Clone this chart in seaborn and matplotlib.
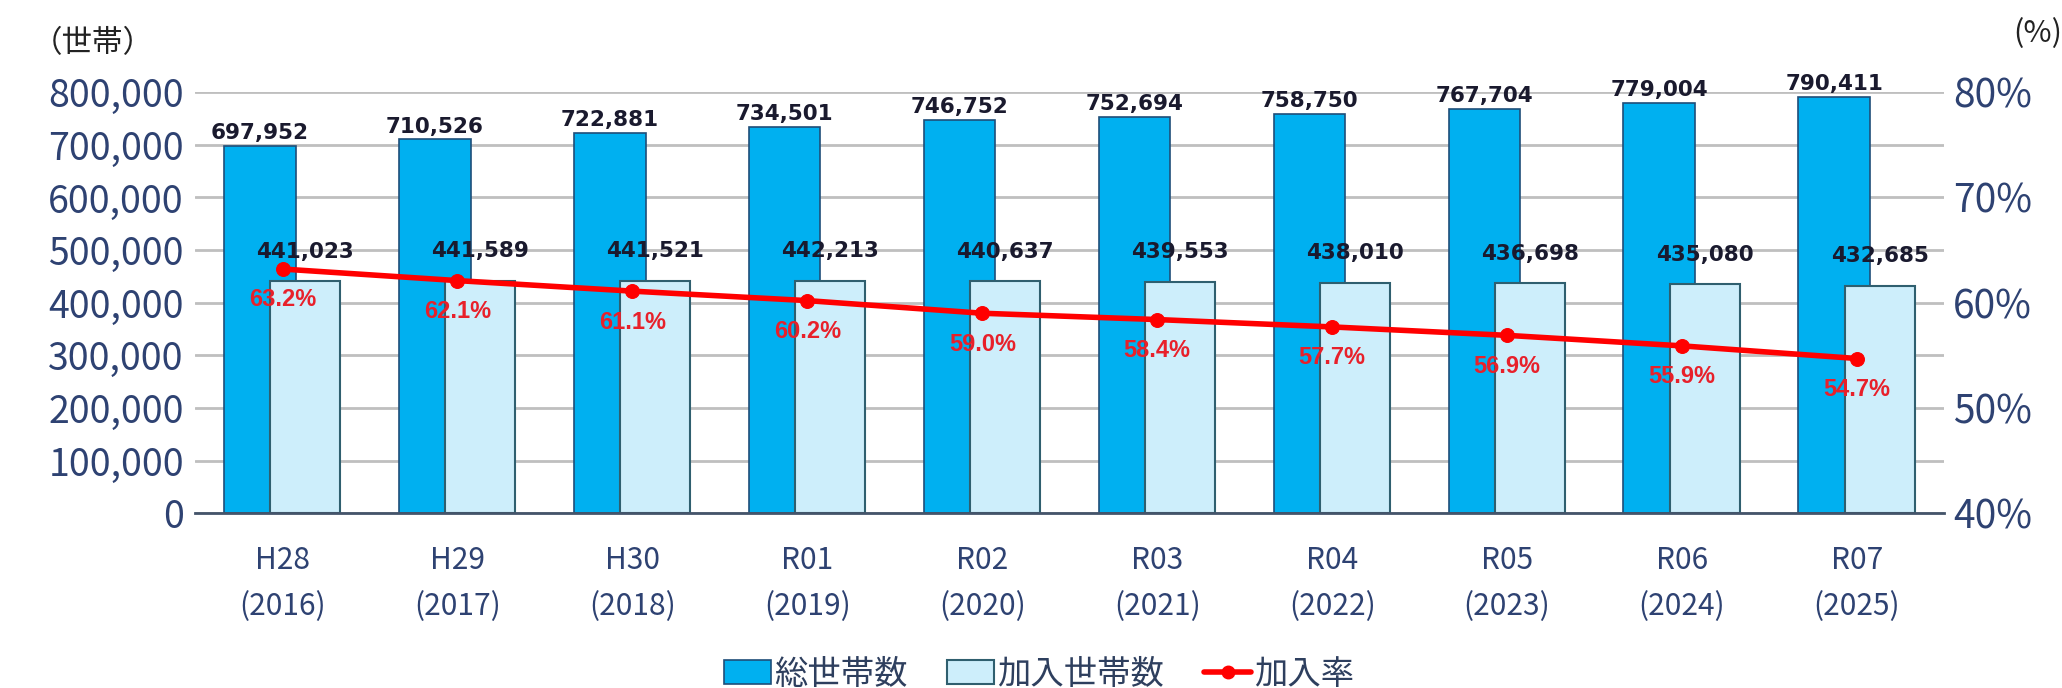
import numpy as np
import pandas as pd
import matplotlib
matplotlib.use("Agg")
import matplotlib.pyplot as plt
import seaborn as sns
from matplotlib.patches import Patch
from matplotlib.lines import Line2D

# data
years = ["H28\n(2016)", "H29\n(2017)", "H30\n(2018)", "R01\n(2019)", "R02\n(2020)",
         "R03\n(2021)", "R04\n(2022)", "R05\n(2023)", "R06\n(2024)", "R07\n(2025)"]
total_households = [697952, 710526, 722881, 734501, 746752, 752694, 758750, 767704, 779004, 790411]
joined_households = [441023, 441589, 441521, 442213, 440637, 439553, 438010, 436698, 435080, 432685]
join_rate = [63.2, 62.1, 61.1, 60.2, 59.0, 58.4, 57.7, 56.9, 55.9, 54.7]

df = pd.DataFrame({"year": years, "total": total_households,
                   "joined": joined_households, "rate": join_rate})

sns.set_style("white")
plt.rcParams["font.family"] = ["Noto Sans CJK JP", "DejaVu Sans"]

dark = "#00B0F0"
light = "#CDEEFB"
navy = "#2E4272"

fig, ax = plt.subplots(figsize=(20.62, 6.88), dpi=100)
fig.subplots_adjust(left=0.0946, right=0.943, top=0.866, bottom=0.254)

# ----- bars: total households, then joined households overlapping on the right -----
sns.barplot(data=df, x="year", y="total", color=dark, width=0.41,
            edgecolor="#1F4E79", linewidth=1.2, saturation=1, ax=ax)
sns.barplot(data=df, x="year", y="joined", color=light, width=0.40,
            edgecolor="#2F5F6F", linewidth=1.5, saturation=1, ax=ax)
c_total, c_joined = ax.containers[0], ax.containers[1]
for p in c_total:
    p.set_x(p.get_x() - 0.13)
for p in c_joined:
    p.set_x(p.get_x() + 0.13)

ax.bar_label(c_total, labels=[f"{v:,}" for v in total_households], padding=2,
             fontsize=15.5, fontweight="bold", color="#1A1A2E", family="DejaVu Sans")
ax.bar_label(c_joined, labels=[f"{v:,}" for v in joined_households], padding=14,
             fontsize=15.5, fontweight="bold", color="#1A1A2E", family="DejaVu Sans")

ax.set_ylim(0, 800000)
ax.set_xlim(-0.5, len(years) - 0.5)
ax.set_yticks(np.arange(0, 800001, 100000))
ax.set_yticklabels([f"{v:,}" for v in range(0, 800001, 100000)])
ax.tick_params(axis="y", labelsize=27, labelcolor=navy, length=0, pad=8)
ax.tick_params(axis="x", labelsize=21.5, labelcolor=navy, length=0, pad=23)
for t in ax.get_xticklabels():
    t.set_linespacing(1.6)
ax.set_xlabel("")
ax.set_ylabel("")
ax.yaxis.grid(True, color="#BFBFBF", linewidth=2)
ax.set_axisbelow(True)
for s in ["top", "left", "right"]:
    ax.spines[s].set_visible(False)
ax.spines["bottom"].set_color("#44546A")
ax.spines["bottom"].set_linewidth(2)

# ----- join rate line on right axis -----
ax2 = ax.twinx()
sns.lineplot(x=np.arange(len(years)), y=join_rate, color="#FF0000", linewidth=4,
             marker="o", markersize=10, markeredgecolor="#FF0000", ax=ax2)
ax2.set_ylim(40, 80)
ax2.set_yticks([40, 50, 60, 70, 80])
ax2.set_yticklabels([f"{v}%" for v in [40, 50, 60, 70, 80]])
ax2.tick_params(axis="y", labelsize=28, labelcolor=navy, length=0, pad=6)
for s in ax2.spines.values():
    s.set_visible(False)
for i, r in enumerate(join_rate):
    ax2.annotate(f"{r:.1f}%", (i, r), xytext=(0, -14), textcoords="offset points",
                 ha="center", va="top", fontsize=17, fontweight="bold",
                 color="#E8202A", family="Liberation Sans")

# axis unit labels
fig.text(0.045, 0.937, "（世帯）", fontsize=22, color="#222222", ha="center", va="center")
fig.text(0.988, 0.952, "(%)", fontsize=22, color="#222222", ha="center", va="center")

# legend
handles = [Patch(facecolor=dark, edgecolor="#1F4E79", linewidth=1.2),
           Patch(facecolor=light, edgecolor="#2F5F6F", linewidth=1.5),
           Line2D([0], [0], color="#FF0000", linewidth=4, marker="o", markersize=9)]
fig.legend(handles, ["総世帯数", "加入世帯数", "加入率"], loc="center",
           bbox_to_anchor=(0.504, 0.02), ncol=3, frameon=False, fontsize=24,
           handlelength=1.4, handletextpad=0.1, columnspacing=1.2,
           labelcolor="#2E3F5E")

fig.savefig("out.png", dpi=100)
